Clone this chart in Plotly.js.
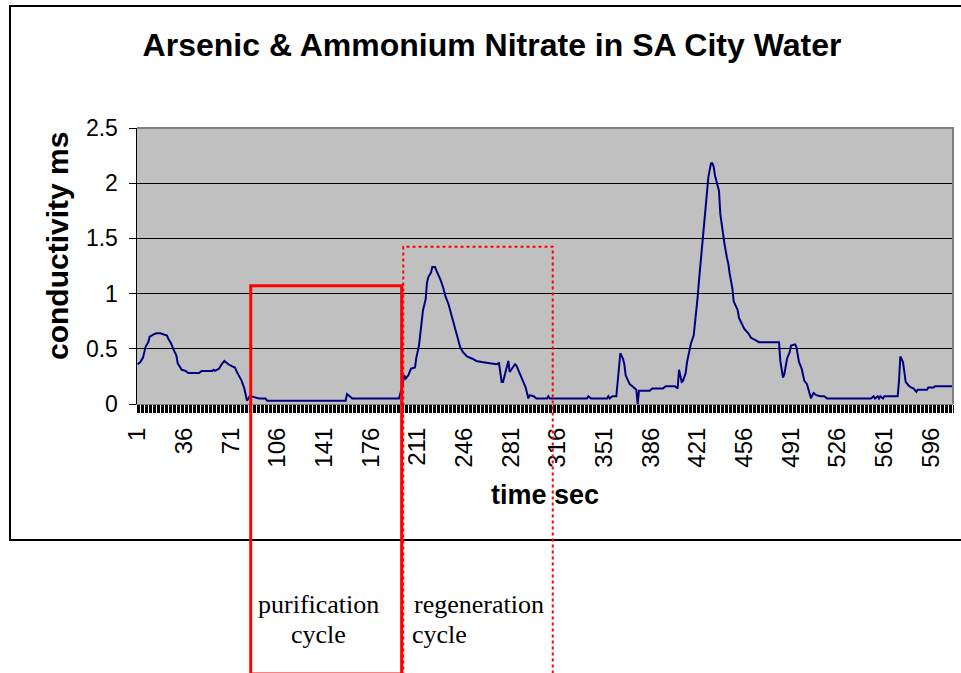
<!DOCTYPE html>
<html>
<head>
<meta charset="utf-8">
<script src="https://cdn.plot.ly/plotly-3.0.1.min.js"></script>
<style>html,body{margin:0;padding:0;background:#fff;}#chart{width:961px;height:673px;}</style>
</head>
<body>
<div id="chart"></div>
<script>
// ---- data ----
const timeSec = [
  1,3,5,6,7,9,10,13,15,18,20,23,24,26,28,30,31,33,34,37,39,47,49,57,58,59,62,64,66,67,69,72,74,75,77,79,81,82,83,85,86,89,92,97,98,
  157,158,160,162,197,199,201,202,204,206,209,210,212,213,214,215,217,218,219,221,222,224,225,228,230,232,234,236,238,239,241,243,245,248,252,255,259,267,270,272,274,275,277,279,280,282,284,285,288,290,292,294,295,298,300,
  308,309,310,338,339,341,353,354,355,357,360,361,362,363,365,366,367,369,370,372,374,375,376,377,385,387,395,397,404,405,406,407,409,410,412,413,415,416,418,419,420,421,422,423,424,425,426,427,428,429,430,431,432,433,434,435,436,437,438,439,440,441,443,444,445,446,447,448,449,451,452,454,456,459,461,464,467,
  482,483,485,486,488,490,491,494,495,496,497,499,500,501,503,504,506,507,508,510,513,516,518,551,553,554,556,557,558,560,561,571,572,573,575,576,577,579,581,583,585,586,593,594,598,599,612
];
const conductivity = [
  0.36,0.38,0.42,0.46,0.52,0.56,0.61,0.63,0.64,0.64,0.63,0.62,0.59,0.55,0.49,0.44,0.37,0.33,0.31,0.30,0.28,0.28,0.30,0.30,0.31,0.30,0.32,0.36,0.39,0.38,0.36,0.34,0.33,0.30,0.26,0.21,0.14,0.09,0.03,0.07,0.07,0.06,0.05,0.05,0.03,
  0.03,0.09,0.07,0.05,0.05,0.14,0.26,0.23,0.26,0.32,0.33,0.42,0.53,0.64,0.74,0.85,0.95,1.10,1.15,1.19,1.24,1.24,1.21,1.13,1.06,0.97,0.91,0.82,0.74,0.67,0.58,0.51,0.47,0.43,0.41,0.39,0.38,0.37,0.36,0.37,0.20,0.20,0.29,0.39,0.29,0.33,0.36,0.35,0.27,0.21,0.15,0.05,0.08,0.07,0.05,
  0.05,0.07,0.05,0.05,0.07,0.05,0.05,0.07,0.05,0.07,0.07,0.21,0.33,0.46,0.41,0.36,0.26,0.20,0.18,0.16,0.14,0.13,0.00,0.12,0.12,0.14,0.14,0.16,0.16,0.15,0.14,0.31,0.20,0.21,0.28,0.38,0.48,0.55,0.62,0.72,0.85,0.97,1.12,1.25,1.37,1.53,1.68,1.80,1.96,2.05,2.12,2.18,2.18,2.15,2.07,2.02,1.99,1.93,1.72,1.63,1.52,1.46,1.32,1.27,1.18,1.12,1.05,0.93,0.90,0.85,0.78,0.73,0.68,0.64,0.60,0.58,0.56,
  0.56,0.39,0.24,0.27,0.41,0.47,0.53,0.54,0.52,0.46,0.38,0.32,0.26,0.21,0.18,0.13,0.05,0.08,0.10,0.08,0.07,0.07,0.05,0.05,0.07,0.05,0.07,0.05,0.07,0.05,0.07,0.07,0.21,0.43,0.38,0.29,0.20,0.17,0.15,0.14,0.11,0.13,0.13,0.15,0.15,0.16,0.16
];
const tickTimes  = [1,36,71,106,141,176,211,246,281,316,351,386,421,456,491,526,561,596];
const tickLabels = ["1","36","71","106","141","176","211","246","281","316","351","386","421","456","491","526","561","596"];
const chartTitle = "Arsenic & Ammonium Nitrate in SA City Water";
const xTitle = "time sec";
const yTitle = "conductivity ms";
// cycle boxes: [start time, end time, top conductivity]
const purificationBox = [85.8, 199.0, 1.07];
const regenerationBox = [200.2, 312.3, 1.425];
const boxLabels = ["purification", "cycle", "regeneration", "cycle"];

// ---- layout geometry ----
const W = 961, H = 673, ML = 137, MR = 8, MT = 128, MB = 269;
const PW = W - ML - MR, PH = H - MT - MB;
const XR = [0.5, 612.5], YR = [0, 2.5];
const xp = t => (t - XR[0]) / (XR[1] - XR[0]);
const yp = v => (v - YR[0]) / (YR[1] - YR[0]);
const pxX = px => (px - ML) / PW;
const pxY = py => (H - MB - py) / PH;

const FONT = "Liberation Sans, Arial, sans-serif";
const SERIF = "Liberation Serif, Times New Roman, serif";

const trace = {
  x: timeSec, y: conductivity, type: "scatter", mode: "lines",
  line: {color: "#000080", width: 2}, hoverinfo: "skip", showlegend: false
};

const shapes = [
  // chart area border (right side off-page)
  {type: "path", xref: "paper", yref: "paper", layer: "above",
   path: `M ${pxX(990)} ${pxY(6)} L ${pxX(10)} ${pxY(6)} L ${pxX(10)} ${pxY(540)} L ${pxX(990)} ${pxY(540)}`,
   line: {color: "#000", width: 2}},
  // plot area border (top & right)
  {type: "path", xref: "paper", yref: "paper", layer: "above",
   path: `M 0 1 L 1 1 L 1 0`, line: {color: "#808080", width: 2}},
  // regeneration (dotted)
  {type: "rect", xref: "paper", yref: "paper", layer: "above",
   x0: xp(regenerationBox[0]), x1: xp(regenerationBox[1]), y0: pxY(674), y1: yp(regenerationBox[2]),
   line: {color: "#ff0000", width: 2, dash: "dot"}},
  // purification (solid)
  {type: "rect", xref: "paper", yref: "paper", layer: "above",
   x0: xp(purificationBox[0]), x1: xp(purificationBox[1]), y0: pxY(674), y1: yp(purificationBox[2]),
   line: {color: "#ff0000", width: 3}}
];

const annotations = [
  {text: yTitle, xref: "paper", yref: "paper", x: pxX(57), y: pxY(246), textangle: -90,
   showarrow: false, xanchor: "center", yanchor: "middle",
   font: {family: FONT, size: 30, color: "#000", weight: "bold"}},
  {text: boxLabels[0], xref: "paper", yref: "paper", x: pxX(318), y: pxY(604), showarrow: false,
   xanchor: "center", yanchor: "middle", font: {family: SERIF, size: 26, color: "#000"}},
  {text: boxLabels[1], xref: "paper", yref: "paper", x: pxX(318), y: pxY(634), showarrow: false,
   xanchor: "center", yanchor: "middle", font: {family: SERIF, size: 26, color: "#000"}},
  {text: boxLabels[2], xref: "paper", yref: "paper", x: pxX(412), y: pxY(604), showarrow: false,
   xanchor: "left", yanchor: "middle", font: {family: SERIF, size: 26, color: "#000"}},
  {text: boxLabels[3], xref: "paper", yref: "paper", x: pxX(410), y: pxY(634), showarrow: false,
   xanchor: "left", yanchor: "middle", font: {family: SERIF, size: 26, color: "#000"}}
];

const layout = {
  width: W, height: H,
  margin: {l: ML, r: MR, t: MT, b: MB, pad: 0},
  paper_bgcolor: "#ffffff", plot_bgcolor: "#c0c0c0",
  showlegend: false,
  title: {text: chartTitle, x: 492 / W, xref: "container", xanchor: "center",
          y: 1 - 45 / H, yref: "container", yanchor: "middle",
          font: {family: FONT, size: 32, color: "#000", weight: "bold"}},
  xaxis: {
    range: XR, type: "linear", tickmode: "array", tickvals: tickTimes, ticktext: tickLabels,
    tickangle: -90, ticks: "", ticklabelstandoff: 13,
    tickfont: {family: FONT, size: 24, color: "#000"},
    showgrid: false, zeroline: false, showline: true, linecolor: "#808080", linewidth: 1,
    minor: {tick0: 0.5, dtick: 1, ticks: "outside", ticklen: 8, tickcolor: "#000", tickwidth: 1, showgrid: false},
    title: {text: xTitle, standoff: 18, font: {family: FONT, size: 27, color: "#000", weight: "bold"}},
    fixedrange: true
  },
  yaxis: {
    range: YR, tickmode: "linear", tick0: 0, dtick: 0.5,
    ticks: "outside", ticklen: 7, tickcolor: "#000", tickwidth: 1,
    tickfont: {family: FONT, size: 23, color: "#000"}, ticklabelstandoff: 6,
    showgrid: true, gridcolor: "#000", gridwidth: 1,
    zeroline: false, showline: true, linecolor: "#000", linewidth: 1.5,
    fixedrange: true
  },
  shapes: shapes,
  annotations: annotations
};

Plotly.newPlot("chart", [trace], layout, {staticPlot: true, displayModeBar: false});
</script>
</body>
</html>
